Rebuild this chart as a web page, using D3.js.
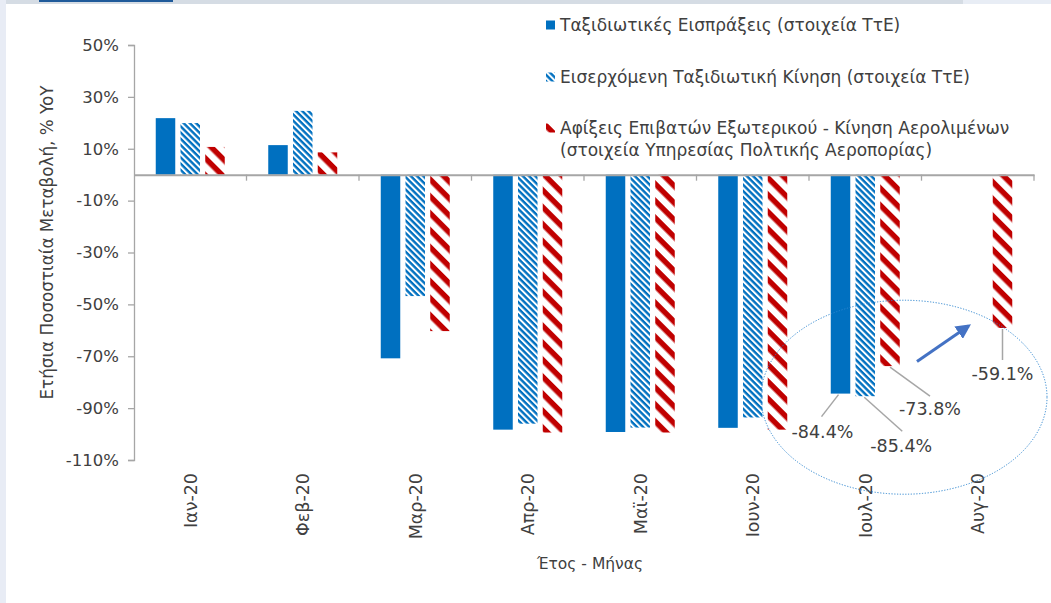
<!DOCTYPE html>
<html>
<head>
<meta charset="utf-8">
<script src="https://cdn.jsdelivr.net/npm/d3@7"></script>
<style>
  html, body { margin: 0; padding: 0; background: #fff; }
  svg { display: block; font-family: "DejaVu Sans", sans-serif; }
</style>
</head>
<body>
<svg id="chart" width="1051" height="603"></svg>
<script>
const months = ['Ιαν-20', 'Φεβ-20', 'Μαρ-20', 'Απρ-20', 'Μαϊ-20', 'Ιουν-20', 'Ιουλ-20', 'Αυγ-20'];
const receipts = [21.8, 11.4, -70.8, -98.3, -99.2, -97.6, -84.4, null];
const inbound = [19.9, 24.6, -46.8, -96.0, -97.5, -93.6, -85.4, null];
const arrivals = [10.7, 8.6, -60.3, -99.4, -99.4, -98.3, -73.8, -59.1];
const yTicks = [50, 30, 10, -10, -30, -50, -70, -90, -110];
const seriesNames = [
  'Ταξιδιωτικές Εισπράξεις (στοιχεία ΤτΕ)',
  'Εισερχόμενη Ταξιδιωτική Κίνηση (στοιχεία ΤτΕ)',
  'Αφίξεις Επιβατών Εξωτερικού - Κίνηση Αερολιμένων'
];
const legendSecondLine = '(στοιχεία Υπηρεσίας Πολτικής Αεροπορίας)';
// labelled points: [month index, series index, value]
const callouts = [[6, 0, -84.4], [6, 1, -85.4], [6, 2, -73.8], [7, 2, -59.1]];

const svg = d3.select('#chart');
const textColor = '#404040';
const axisColor = '#a6a6a6';

// page chrome (cut-off slide header, side strip)
svg.append('rect').attr('x', 0).attr('y', 0).attr('width', 6).attr('height', 603).attr('fill', '#e8ecf5');
svg.append('rect').attr('x', 6).attr('y', 0).attr('width', 957).attr('height', 4).attr('fill', '#d5dce4');
svg.append('rect').attr('x', 963).attr('y', 0).attr('width', 88).attr('height', 4).attr('fill', '#e8edf5');
svg.append('rect').attr('x', 39).attr('y', 0).attr('width', 134).attr('height', 2).attr('fill', '#1f5a9a');

// patterns
const defs = svg.append('defs');
const blueHatch = defs.append('pattern')
  .attr('id', 'blueHatch').attr('patternUnits', 'userSpaceOnUse')
  .attr('width', 4.4).attr('height', 4.4).attr('patternTransform', 'rotate(45)');
blueHatch.append('rect').attr('width', 4.4).attr('height', 4.4).attr('fill', '#fff');
blueHatch.append('rect').attr('width', 4.4).attr('height', 2.4).attr('fill', '#0070c0');

const redHatch = defs.append('pattern')
  .attr('id', 'redHatch').attr('patternUnits', 'userSpaceOnUse')
  .attr('width', 12).attr('height', 12).attr('patternTransform', 'rotate(45)');
redHatch.append('rect').attr('width', 12).attr('height', 12).attr('fill', '#fff');
redHatch.append('rect').attr('width', 12).attr('height', 5.5).attr('fill', '#c00000');

const fills = ['#0070c0', 'url(#blueHatch)', 'url(#redHatch)'];
const series = [receipts, inbound, arrivals];

// scales
const x = d3.scaleBand().domain(months).range([134, 1034]).padding(0);
const groupW = 69;
const xs = d3.scaleBand().domain([0, 1, 2])
  .range([(x.bandwidth() - groupW) / 2, (x.bandwidth() + groupW) / 2])
  .paddingInner(0.212);
const y = d3.scaleLinear().domain([-110, 50]).range([460, 45]);

// bars
series.forEach((vals, si) => {
  svg.append('g').selectAll('rect')
    .data(vals.map((v, i) => ({ v, m: months[i] })).filter(d => d.v !== null))
    .join('rect')
    .attr('x', d => x(d.m) + xs(si))
    .attr('width', xs.bandwidth())
    .attr('y', d => y(Math.max(0, d.v)))
    .attr('height', d => Math.abs(y(d.v) - y(0)))
    .attr('fill', fills[si]);
});

// y axis
const yAxis = svg.append('g')
  .attr('transform', 'translate(134,0)')
  .call(d3.axisLeft(y).tickValues(yTicks).tickFormat(d => d + '%').tickSize(6).tickPadding(9));
yAxis.select('.domain').attr('stroke', axisColor).attr('stroke-width', 1.3);
yAxis.selectAll('.tick line').attr('stroke', axisColor).attr('stroke-width', 1.3);
yAxis.selectAll('.tick text').attr('fill', textColor)
  .style('font-size', '16.5px').style('font-family', '"DejaVu Sans", sans-serif');

// zero line with category ticks
const xAxis = svg.append('g')
  .attr('transform', `translate(0,${y(0)})`)
  .call(d3.axisBottom(x).tickSize(0).tickFormat(''));
xAxis.select('.domain').attr('stroke', axisColor).attr('stroke-width', 2);
xAxis.selectAll('.tick').remove();
svg.append('g').selectAll('line')
  .data(months.slice(1).map(m => x(m)).concat([x.range()[1]]))
  .join('line')
  .attr('x1', d => d).attr('x2', d => d)
  .attr('y1', y(0)).attr('y2', y(0) + 6)
  .attr('stroke', axisColor).attr('stroke-width', 1.3);

// month labels (rotated)
svg.append('g').selectAll('text')
  .data(months)
  .join('text')
  .attr('transform', d => `translate(${x(d) + x.bandwidth() / 2 + 6.5},473) rotate(-90)`)
  .attr('text-anchor', 'end')
  .attr('fill', textColor)
  .style('font-size', '17.5px')
  .text(d => d);

// axis titles
svg.append('text')
  .attr('transform', `translate(53,${(y(50) + y(-110)) / 2 - 10}) rotate(-90)`)
  .attr('text-anchor', 'middle')
  .attr('fill', textColor)
  .style('font-size', '16.8px')
  .text('Ετήσια Ποσοστιαία Μεταβολή, % YoY');

svg.append('text')
  .attr('x', 590).attr('y', 569)
  .attr('text-anchor', 'middle')
  .attr('fill', textColor)
  .style('font-size', '15.5px')
  .text('Έτος - Μήνας');

// legend
const legendY = [25, 77, 128];
const legend = svg.append('g');
seriesNames.forEach((name, i) => {
  legend.append('rect')
    .attr('x', 546).attr('y', legendY[i] - 4.5)
    .attr('width', 9).attr('height', 9)
    .attr('fill', fills[i]);
  legend.append('text')
    .attr('x', 560).attr('y', legendY[i])
    .attr('dy', '0.35em')
    .attr('fill', textColor)
    .style('font-size', '17px')
    .text(name);
});
legend.append('text')
  .attr('x', 560).attr('y', legendY[2] + 22)
  .attr('dy', '0.35em')
  .attr('fill', textColor)
  .style('font-size', '17px')
  .text(legendSecondLine);

// callout ellipse and arrow
svg.append('ellipse')
  .attr('cx', x(months[7]) - 17.5).attr('cy', y(-85.8))
  .attr('rx', 143).attr('ry', 97)
  .attr('fill', 'none')
  .attr('stroke', '#2e86d0')
  .attr('stroke-width', 1)
  .attr('stroke-dasharray', '1.2 1.6');

defs.append('marker')
  .attr('id', 'arrowHead')
  .attr('viewBox', '0 0 10 10')
  .attr('refX', 8).attr('refY', 5)
  .attr('markerWidth', 5).attr('markerHeight', 5)
  .attr('orient', 'auto')
  .append('path').attr('d', 'M0,0 L10,5 L0,10 z').attr('fill', '#4472c4');

svg.append('line')
  .attr('x1', x(months[6]) + 108).attr('y1', y(-72))
  .attr('x2', x(months[7]) + 47).attr('y2', y(-58.3))
  .attr('stroke', '#4472c4')
  .attr('stroke-width', 3)
  .attr('marker-end', 'url(#arrowHead)');

// data labels with leader lines: [dx1, dx2, dy2, label dx, label dy]
const leaderGeom = [[-2, -19, 23, -18, 38], [-1, 37, 35, 36, 50], [0, 40, 30, 40, 43], [0, 0, 32, 0, 46]];
callouts.forEach(([mi, si, v], k) => {
  const g = leaderGeom[k];
  const bx = x(months[mi]) + xs(si) + xs.bandwidth() / 2;
  const by = y(v);
  svg.append('line')
    .attr('x1', bx + g[0]).attr('y1', by + 1)
    .attr('x2', bx + g[1]).attr('y2', by + g[2])
    .attr('stroke', axisColor).attr('stroke-width', 1.5);
  svg.append('text')
    .attr('x', bx + g[3]).attr('y', by + g[4])
    .attr('dy', '0.35em')
    .attr('text-anchor', 'middle')
    .attr('fill', textColor)
    .style('font-size', '17.5px')
    .text(v.toFixed(1) + '%');
});
</script>
</body>
</html>
